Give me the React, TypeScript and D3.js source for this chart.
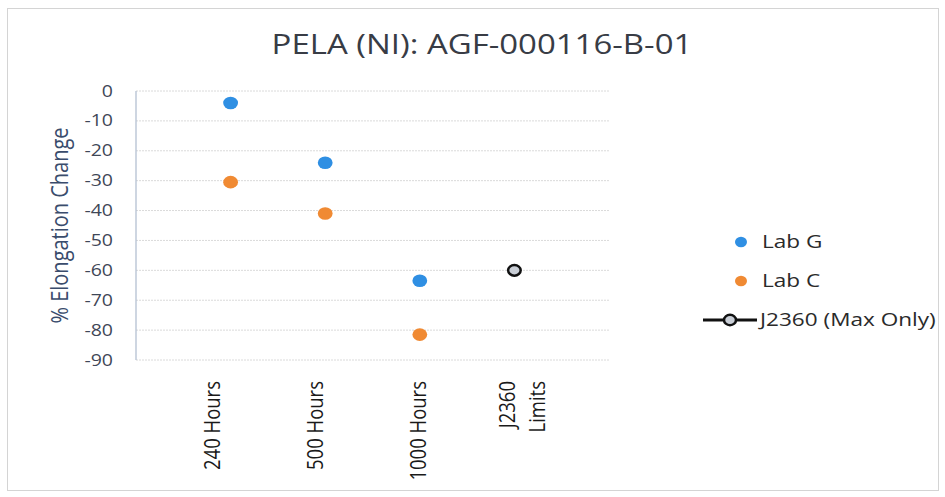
import React from "react";
import * as d3 from "d3";

const categories = ["240 Hours", "500 Hours", "1000 Hours", "J2360\nLimits"];
const labG = [-4, -24, -63.5, null];
const labC = [-30.5, -41, -81.5, null];
const j2360 = [null, null, null, -60];
const yTicks = [0, -10, -20, -30, -40, -50, -60, -70, -80, -90];
const legendItems = ["Lab G", "Lab C", "J2360 (Max Only)"];

const W = 945, H = 497;
const FONT = "'Open Sans', 'Noto Sans', sans-serif";
const SX = 1.22;

export default function App() {
  const x = d3.scaleLinear().domain([0, categories.length + 1]).range([136, 609]);
  const xl = d3.scalePoint().domain(categories).range([212, 521]);
  const y = d3.scaleLinear().domain([0, -90]).range([91, 360]);
  const blue = "#2f8fe3";
  const orange = "#f08a33";
  const textCol = "#3f4757";

  return (
    <svg width={W} height={H} style={{ position: "absolute", left: 0, top: 0, background: "#fff" }}>
      <rect x={7.5} y={8.5} width={931} height={482} fill="#fff" stroke="#d4d4d4" strokeWidth={1} />
      <text transform={`translate(482,54) scale(${SX},1)`} textAnchor="middle" fontFamily={FONT} fontSize={27} fill="#383c45">
        PELA (NI): AGF-000116-B-01
      </text>
      {yTicks.map((t) => (
        <g key={t}>
          <line x1={136} x2={609} y1={y(t)} y2={y(t)} stroke="#dadada" strokeWidth={1} strokeDasharray="2,1" />
          <text
            transform={`translate(113,${y(t) + 5.5}) scale(${SX},1)`}
            textAnchor="end"
            fontFamily={FONT}
            fontSize={16}
            fill={textCol}
          >
            {t === 0 ? "0" : `-${Math.abs(t)}`}
          </text>
        </g>
      ))}
      <line x1={136} x2={136} y1={y(0)} y2={y(-90)} stroke="#b4c0d2" strokeWidth={1.3} />
      <text
        transform={`translate(68,${(y(0) + y(-90)) / 2}) scale(${SX},1) rotate(-90)`}
        textAnchor="middle"
        fontFamily={FONT}
        fontSize={20}
        fill="#3a4c6c"
      >
        % Elongation Change
      </text>
      {categories.map((c) => {
        const lines = c.split("\n");
        const cx = xl(c) as number;
        return (
          <text
            key={c}
            transform={`translate(${cx},${381}) scale(${SX},1) rotate(-90)`}
            textAnchor="end"
            fontFamily={FONT}
            fontSize={18.5}
            fill="#1a1a1a"
          >
            {lines.map((l, k) => (
              <tspan key={k} x={0} dy={k === 0 ? (lines.length === 1 ? 6.5 : -5) : 24.5}>
                {l}
              </tspan>
            ))}
          </text>
        );
      })}
      {labG.map((v, i) =>
        v == null ? null : <ellipse key={"g" + i} cx={x(i + 1)} cy={y(v)} rx={7.4} ry={6.3} fill={blue} />
      )}
      {labC.map((v, i) =>
        v == null ? null : <ellipse key={"c" + i} cx={x(i + 1)} cy={y(v)} rx={7.4} ry={6.3} fill={orange} />
      )}
      {j2360.map((v, i) =>
        v == null ? null : (
          <ellipse key={"j" + i} cx={x(i + 1)} cy={y(v)} rx={6.3} ry={5.3} fill="#c9ced6" stroke="#111" strokeWidth={2.5} />
        )
      )}
      <g fontFamily={FONT} fontSize={18.5} fill="#2a2a2a">
        <ellipse cx={741} cy={242} rx={6} ry={5.2} fill={blue} />
        <text transform={`translate(762,248) scale(${SX},1)`}>{legendItems[0]}</text>
        <ellipse cx={741} cy={281} rx={6} ry={5.2} fill={orange} />
        <text transform={`translate(762,287) scale(${SX},1)`}>{legendItems[1]}</text>
        <line x1={703} x2={757} y1={320} y2={320} stroke="#111" strokeWidth={3} />
        <ellipse cx={730} cy={320} rx={6} ry={5.2} fill="#c9ced6" stroke="#111" strokeWidth={2.5} />
        <text transform={`translate(760,326) scale(${SX},1)`}>{legendItems[2]}</text>
      </g>
    </svg>
  );
}
